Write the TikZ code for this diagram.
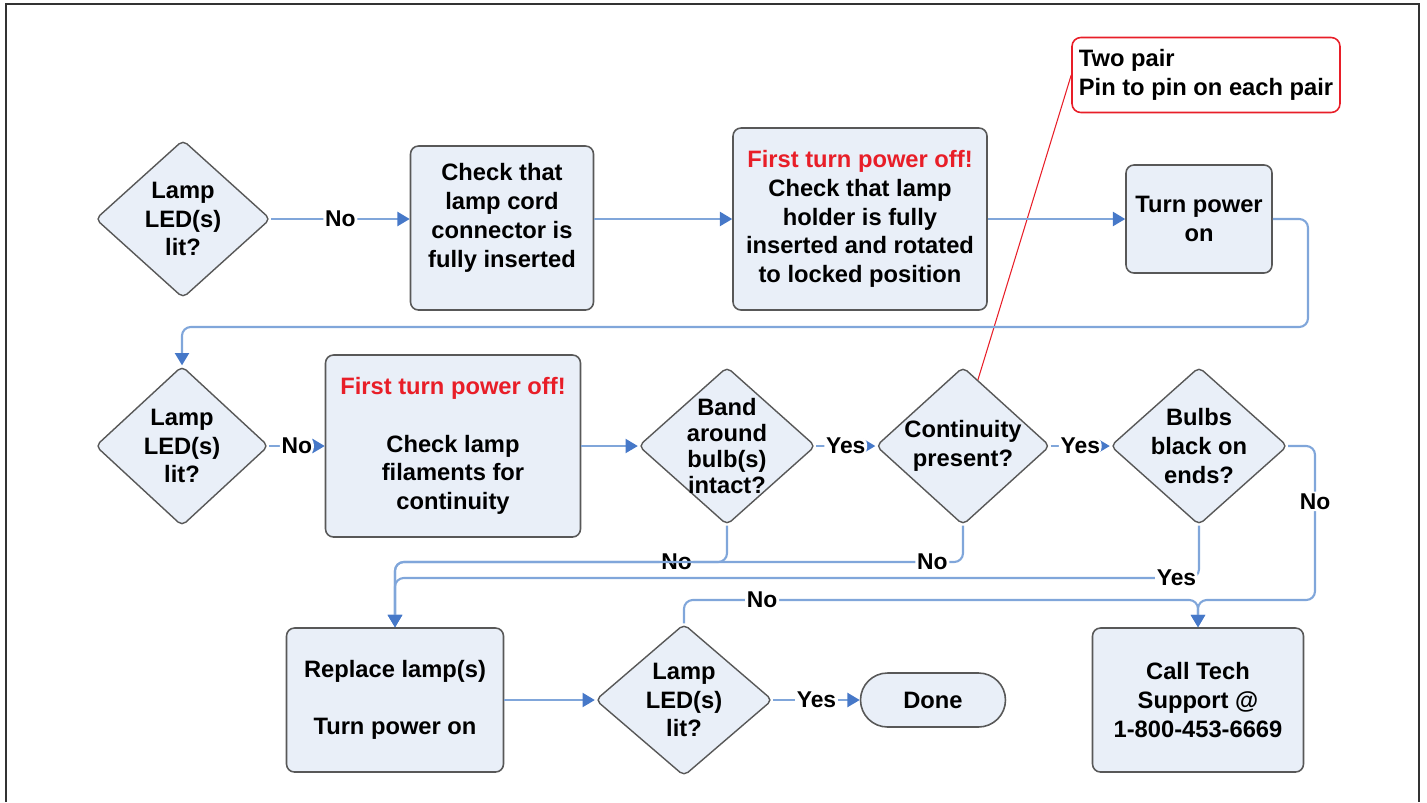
\documentclass[tikz,border=0pt]{standalone}
\usepackage{fontspec}
\setmainfont{Liberation Sans}
\usetikzlibrary{
  arrows.meta,
  calc,
  positioning,
  shapes.geometric,
  shapes.misc,
}
\definecolor{boxfill}{RGB}{233, 239, 248}
\definecolor{boxline}{RGB}{88, 88, 88}
\definecolor{flowline}{RGB}{128, 166, 218}
\definecolor{flowtip}{RGB}{70, 120, 200}
\definecolor{warnred}{RGB}{232, 30, 40}
\tikzstyle{stepbox} = [
  rectangle,
  rounded corners=4.5pt,
  draw=boxline,
  line width=0.9pt,
  fill=boxfill,
  align=center,
  inner sep=0pt,
  font=\fontsize{13.5}{16.4}\selectfont\bfseries,
]
\tikzstyle{endbox} = [
  rounded rectangle,
  draw=boxline,
  line width=0.9pt,
  fill=boxfill,
  inner sep=0pt,
  font=\fontsize{13.5}{16.4}\selectfont\bfseries,
]
\tikzstyle{decision} = [
  diamond,
  rounded corners=3pt,
  draw=boxline,
  line width=0.8pt,
  fill=boxfill,
  inner sep=0pt,
]
\tikzstyle{dtext} = [
  align=center,
  inner sep=0pt,
  font=\fontsize{13.5}{16.4}\selectfont\bfseries,
]
\tikzstyle{flow} = [
  -{Triangle[length=7pt, width=8pt, color=flowtip]},
  line width=1.2pt,
  flowline,
  rounded corners=5pt,
]
\tikzstyle{lbl} = [
  fill=white,
  inner sep=1pt,
  text=black,
  font=\fontsize{13}{15}\selectfont\bfseries,
]
\tikzstyle{note} = [
  rectangle,
  rounded corners=5pt,
  draw=warnred,
  line width=0.9pt,
  align=left,
  inner sep=0pt,
  font=\fontsize{13.5}{16.4}\selectfont\bfseries,
]

\begin{document}
\begin{tikzpicture}[x=0.02cm, y=-0.02cm]

        \useasboundingbox (0,0) rectangle (1427,802);

        \draw [line width=1.2pt, black!80] (6,802) |- (1419,4) -- (1419,802);

        % first row
        \node [decision, minimum width=3.5cm, minimum height=3.16cm,
               label={[dtext]center:Lamp\\LED(s)\\lit?}] (lit1) at (183,219) {};

        \node [stepbox, minimum width=3.66cm, minimum height=3.28cm] (plug) at (502,228)
              {Check that\\lamp cord\\connector is\\fully inserted\\[-2pt]\mbox{}};

        \node [stepbox, minimum width=5.08cm, minimum height=3.64cm] (holder) at (860,219)
              {\textcolor{warnred}{First turn power off!}\\Check that lamp\\holder is fully\\inserted and rotated\\to locked position};

        \node [stepbox, minimum width=2.92cm, minimum height=2.16cm] (poweron) at (1199,219)
              {Turn power\\on};

        \node [note, minimum width=5.36cm, minimum height=1.5cm] (pair) at (1206,75)
              {Two pair\\Pin to pin on each pair};

        % second row
        \node [decision, minimum width=3.46cm, minimum height=3.2cm,
               label={[dtext]center:Lamp\\LED(s)\\lit?}] (lit2) at (182,446) {};

        \node [stepbox, minimum width=5.1cm, minimum height=3.64cm] (filament) at (453,446)
              {\textcolor{warnred}{First turn power off!}\\[16.4pt]Check lamp\\filaments for\\continuity};

        \node [decision, minimum width=3.54cm, minimum height=3.16cm,
               label={[dtext, font=\fontsize{13.5}{14.8}\selectfont\bfseries]center:Band\\around\\bulb(s)\\intact?}] (band) at (727,446) {};

        \node [decision, minimum width=3.48cm, minimum height=3.16cm,
               label={[dtext]center:Continuity\\present?}] (cont) at (963,446) {};

        \node [decision, minimum width=3.54cm, minimum height=3.16cm,
               label={[dtext]center:Bulbs\\black on\\ends?}] (bulbs) at (1199,446) {};

        % third row
        \node [stepbox, minimum width=4.34cm, minimum height=2.88cm] (replace) at (395,700)
              {Replace lamp(s)\\[16.4pt]Turn power on};

        \node [decision, minimum width=3.54cm, minimum height=3.04cm,
               label={[dtext]center:Lamp\\LED(s)\\lit?}] (lit3) at (684,700) {};

        \node [endbox, minimum width=2.9cm, minimum height=1.08cm] (done) at (933,700) {Done};

        \node [stepbox, minimum width=4.22cm, minimum height=2.88cm] (support) at (1198,700)
              {Call Tech\\Support @\\1-800-453-6669};

        \coordinate (back) at (1308,327);
        \coordinate (noband) at (395,562);
        \coordinate (yesbulb) at (395,578);
        \coordinate (nobulb) at (1315,600);
        \coordinate (nolit) at (1198,600);

        \draw [warnred, line width=0.6pt] (pair.west) -- ($(cont.north)!0.17!(cont.east)$);

        \draw [flow] (lit1.east) -- node [lbl] {No} (lit1.east -| plug.west);
        \draw [flow] (plug.east |- holder.west) -- (holder.west);
        \draw [flow] (holder.east) -- (poweron.west);
        \draw [flow] (poweron.east) -| (back) -| (lit2.north);

        \draw [flow] (lit2.east) -- node [lbl] {No} (filament.west);
        \draw [flow] (filament.east) -- (band.west);
        \draw [flow] (band.east) -- node [lbl] {Yes} (cont.west);
        \draw [flow] (cont.east) -- node [lbl] {Yes} (bulbs.west);
        \draw [flow] (bulbs.east) -| node [lbl, pos=0.68] {No} (nobulb) -| (support.north);

        \draw [flow] (band.south) |- node [lbl, pos=0.576] {No} (noband) -- (replace.north);
        \draw [flow] (cont.south) |- node [lbl, pos=0.527] {No} (noband) -- (replace.north);
        \draw [flow] (bulbs.south) |- node [lbl, pos=0.514] {Yes} (yesbulb) -- (replace.north);

        \draw [flow] (replace.east) -- (lit3.west);
        \draw [flow] (lit3.east) -- node [lbl] {Yes} (done.west);
        \draw [flow] (lit3.north) |- node [lbl, pos=0.576] {No} (nolit) -- (support.north);
      \end{tikzpicture}
\end{document}
